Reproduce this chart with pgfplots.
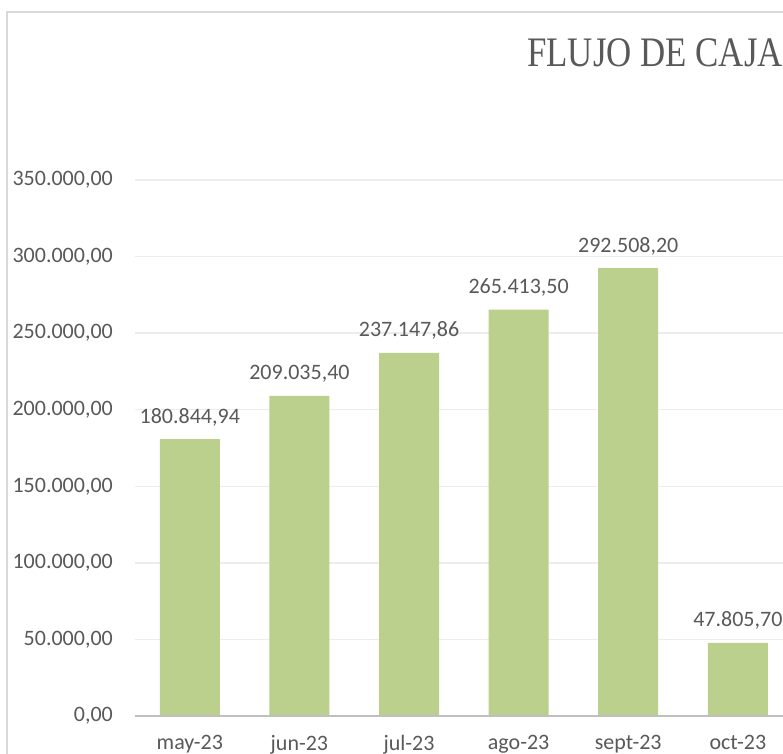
\documentclass[border=0pt]{standalone}
\usepackage{pgfplots}
\pgfplotsset{compat=1.18}
\usepackage{pgfplotstable}
\usepackage{fontspec}
\setmainfont{Carlito}
\newfontfamily\titlefont[FakeStretch=0.83]{Liberation Serif}
\definecolor{txt}{HTML}{595959}
\definecolor{barg}{HTML}{BBD08C}
\definecolor{gridc}{HTML}{EDEDED}
\definecolor{axc}{HTML}{BFBFBF}
\definecolor{framec}{HTML}{D9D9D9}

\pgfplotstableread{
x y lab
0 180844.94 180.844,94
1 209035.40 209.035,40
2 237147.86 237.147,86
3 265413.50 265.413,50
4 292508.20 292.508,20
5 47805.70 47.805,70
}\flujo

\begin{document}
\begin{tikzpicture}[x=1pt,y=1pt]
\useasboundingbox (0,0) rectangle (783,753);
\clip (0,0) rectangle (783,753);
\fill[white] (0,0) rectangle (783,753);
\draw[framec, line width=2pt] (7,-5) -- (7,741) -- (790,741);
\node[anchor=base west, inner sep=0pt, text=txt, font=\titlefont\fontsize{42}{48}\selectfont] at (527,686) {FLUJO DE CAJA};
\begin{axis}[
  at={(135pt,37pt)}, anchor=south west, scale only axis,
  width=648pt, height=536pt,
  xmin=-0.5, xmax=5.412, ymin=0, ymax=350000,
  ytick={0,50000,...,350000},
  xtick={0,...,5},
  xticklabels={may-23,jun-23,jul-23,ago-23,sept-23,oct-23},
  scaled y ticks=false,
  ymajorgrids, grid style={gridc, line width=1.5pt},
  axis line style={draw=none},
  major tick length=0pt,
  tick label style={font=\fontsize{22}{26}\selectfont, text=txt},
  yticklabel style={anchor=east, inner sep=0pt, xshift=-22pt},
  xticklabel style={anchor=north, inner sep=0pt, yshift=-19pt},
  /pgf/number format/fixed,
  /pgf/number format/fixed zerofill,
  /pgf/number format/precision=2,
  /pgf/number format/use comma,
  /pgf/number format/1000 sep={.},
  /pgf/number format/assume math mode=true,
  clip=false,
  ybar, bar width=60pt,
  nodes near coords,
  point meta=explicit symbolic,
  every node near coord/.append style={anchor=base, inner sep=0pt, yshift=16pt, font=\fontsize{22}{26}\selectfont, text=txt},
]
\addplot[fill=barg, draw=none] table[x=x, y=y, meta=lab] {\flujo};
\draw[axc, line width=2.5pt] (rel axis cs:0,0) -- (rel axis cs:1,0);
\end{axis}
\end{tikzpicture}
\end{document}
